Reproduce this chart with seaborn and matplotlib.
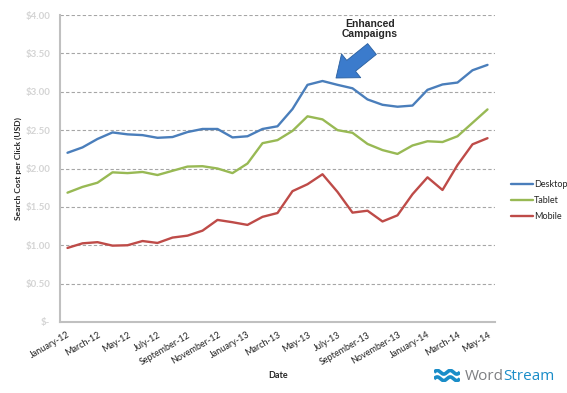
import numpy as np
import pandas as pd
import matplotlib
matplotlib.use("Agg")
import matplotlib.pyplot as plt
import seaborn as sns

# data (monthly, Jan-12 .. May-14), USD
months = ["January-12", "February-12", "March-12", "April-12", "May-12", "June-12",
          "July-12", "August-12", "September-12", "October-12", "November-12", "December-12",
          "January-13", "February-13", "March-13", "April-13", "May-13", "June-13",
          "July-13", "August-13", "September-13", "October-13", "November-13", "December-13",
          "January-14", "February-14", "March-14", "April-14", "May-14"]
desktop = [2.205, 2.275, 2.385, 2.47, 2.445, 2.435, 2.40, 2.41, 2.475, 2.515, 2.515, 2.405,
           2.42, 2.515, 2.55, 2.775, 3.09, 3.14, 3.09, 3.045, 2.90, 2.83, 2.805, 2.82,
           3.025, 3.095, 3.12, 3.28, 3.35]
tablet = [1.685, 1.76, 1.815, 1.95, 1.94, 1.955, 1.915, 1.97, 2.025, 2.03, 2.00, 1.94,
          2.065, 2.33, 2.37, 2.49, 2.68, 2.64, 2.50, 2.465, 2.32, 2.24, 2.19, 2.30,
          2.355, 2.345, 2.42, 2.595, 2.77]
mobile = [0.965, 1.025, 1.04, 0.995, 1.00, 1.055, 1.03, 1.10, 1.125, 1.19, 1.33, 1.30,
          1.265, 1.37, 1.42, 1.705, 1.795, 1.925, 1.695, 1.425, 1.45, 1.31, 1.39, 1.665,
          1.885, 1.72, 2.045, 2.315, 2.395]
y_ticks = [0, 0.5, 1.0, 1.5, 2.0, 2.5, 3.0, 3.5, 4.0]
y_tick_labels = ["$-", "$0.50", "$1.00", "$1.50", "$2.00", "$2.50", "$3.00", "$3.50", "$4.00"]

df = pd.DataFrame({"idx": np.arange(len(months)), "Desktop": desktop,
                   "Tablet": tablet, "Mobile": mobile})
long_df = df.melt(id_vars="idx", var_name="Device", value_name="cpc")

sns.set_theme(style="white")
plt.rcParams["font.family"] = ["Lato", "DejaVu Sans"]

fig = plt.figure(figsize=(5.67, 3.93), dpi=100)
ax = fig.add_axes([60 / 567, 71 / 393, 435 / 567, 307 / 393])

palette = {"Desktop": "#4a7ebb", "Tablet": "#98b954", "Mobile": "#be4b48"}
sns.lineplot(data=long_df, x="idx", y="cpc", hue="Device", palette=palette,
             linewidth=1.7, ax=ax, legend=False)

ax.set_xlim(-0.5, len(months) - 0.5)
ax.set_ylim(0, 4.0)

# grid
ax.set_yticks(y_ticks)
ax.set_yticklabels(y_tick_labels, color="#d4d4d4", fontsize=7, fontweight="bold")
for v in y_ticks[1:]:
    ax.axhline(v, color="#a6a6a6", lw=0.8, ls=(0, (3, 2)), zorder=0)

# x axis: labels every other month, tick marks between categories
ax.set_xticks(np.arange(0, len(months), 2))
ax.set_xticklabels(months[::2], rotation=30, ha="right", rotation_mode="anchor",
                   fontsize=6.5, color="#222222")
ax.set_xticks(np.arange(-0.5, len(months), 1), minor=True)
ax.tick_params(axis="x", which="major", length=0, pad=6)
ax.tick_params(axis="x", which="minor", length=3, color="#a0a0a0", width=0.8)
ax.tick_params(axis="y", length=3, color="#a0a0a0", width=0.8, pad=4)

for s in ["top", "right"]:
    ax.spines[s].set_visible(False)
for s in ["left", "bottom"]:
    ax.spines[s].set_color("#c0c0c0")
    ax.spines[s].set_linewidth(1.5)

ax.set_xlabel("Date", fontsize=6.5, fontweight="bold")
ax.set_ylabel("Search Cost per Click (USD)", fontsize=6, fontweight="bold")
ax.xaxis.set_label_coords((278 - 60) / 435, -(371 - 322) / 307)
ax.yaxis.set_label_coords((22 - 60) / 435, 0.5)

# legend
handles = [plt.Line2D([0], [0], color=palette[k], lw=1.7) for k in ["Desktop", "Tablet", "Mobile"]]
fig.legend(handles, ["Desktop", "Tablet", "Mobile"], loc="upper left",
           bbox_to_anchor=(503 / 567, 1 - 172 / 393), frameon=False, fontsize=6.5,
           handlelength=2.4, handletextpad=0.1, labelspacing=0.75)

# annotation arrow
ax.annotate("", xy=(336, 393 - 78), xytext=(372, 393 - 49), xycoords="figure pixels",
            textcoords="figure pixels",
            arrowprops=dict(arrowstyle="simple,head_width=2.2,head_length=1.4,tail_width=1.0",
                            mutation_scale=10, fc="#3b7bcc", ec="#2a5f9e", lw=0.6,
                            shrinkA=0, shrinkB=0))
fig.text(370 / 567, 1 - 29 / 393, "Enhanced\nCampaigns", ha="center", va="center",
         fontsize=7.5, fontweight="bold", family=["Liberation Sans", "DejaVu Sans"],
         linespacing=1.0)

# WordStream logo
logo_ax = fig.add_axes([434 / 567, 11 / 393, 26 / 567, 13 / 393])
t = np.linspace(0, 2 * np.pi * 2, 200)
for off in [0.0, 1.0]:
    logo_ax.plot(t, 0.28 * np.sin(t) + off, color="#1a8dc8", lw=2.6, solid_capstyle="butt")
logo_ax.set_xlim(0, t[-1])
logo_ax.set_ylim(-0.5, 1.5)
logo_ax.axis("off")
w = fig.text(465 / 567, 1 - 376 / 393, "Word", ha="left", va="center", fontsize=11,
             color="#7d7f82", family=["Open Sans", "DejaVu Sans"])
fig.canvas.draw()
bb = w.get_window_extent()
fig.text((bb.x1 - 1) / fig.bbox.width, 1 - 376 / 393, "Stream", ha="left", va="center",
         fontsize=11, color="#1a8dc8", family=["Open Sans", "DejaVu Sans"])

fig.savefig("out.png", dpi=100)
